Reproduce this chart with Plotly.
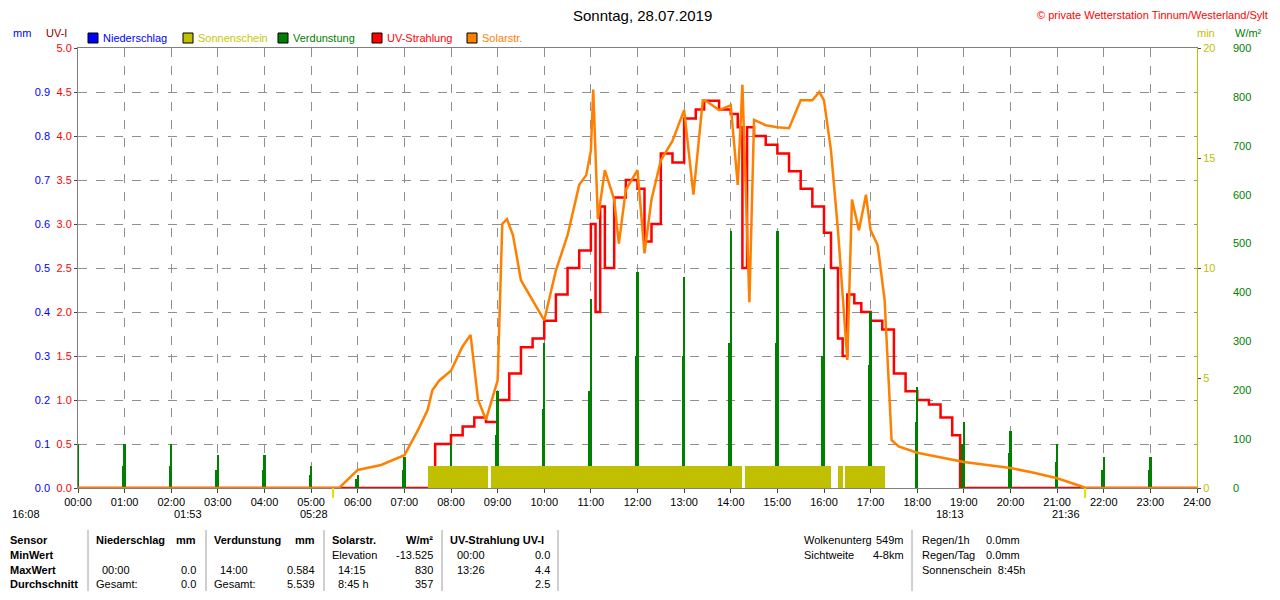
import plotly.graph_objects as go

# ---- data (hours of day) ----
solar_t = [0, 5.6, 6.0, 6.5, 7.0, 7.3, 7.5, 7.6, 7.75, 8.0, 8.25, 8.42, 8.58, 8.75, 9.0, 9.1, 9.2, 9.33, 9.5,
           9.75, 10.0, 10.25, 10.5, 10.75, 10.9, 11.0, 11.05, 11.15, 11.3, 11.5, 11.6, 11.75, 12.0, 12.15,
           12.3, 12.5, 12.75, 13.0, 13.2, 13.4, 13.5, 13.75, 14.0, 14.15, 14.25, 14.4, 14.5, 14.75, 15.0,
           15.25, 15.5, 15.75, 15.9, 16.0, 16.15, 16.3, 16.5, 16.6, 16.75, 16.9, 17.0, 17.15, 17.3, 17.45,
           17.6, 18.0, 18.5, 19.0, 19.5, 20.0, 20.5, 21.0, 21.5, 21.6, 24]
solar_v = [0, 0, 37, 47, 67, 120, 160, 200, 220, 240, 290, 313, 180, 140, 220, 540, 550, 517, 425,
           385, 343, 445, 517, 620, 640, 690, 815, 550, 650, 590, 500, 610, 650, 480, 590, 670, 710,
           773, 600, 793, 790, 773, 783, 620, 825, 380, 753, 742, 738, 736, 793, 793, 810, 793, 690,
           527, 262, 590, 527, 600, 527, 497, 385, 98, 85, 72, 63, 53, 47, 41, 31, 20, 4, 0, 0]

uv_t = [0, 7.65, 7.66, 8.0, 8.25, 8.5, 8.75, 9.0, 9.25, 9.5, 9.75, 10.0, 10.25, 10.5, 10.75, 11.0,
        11.1, 11.2, 11.3, 11.5, 11.75, 12.0, 12.15, 12.3, 12.5, 12.75, 13.0, 13.25, 13.43, 13.75, 14.0,
        14.15, 14.25, 14.35, 14.5, 14.75, 15.0, 15.25, 15.5, 15.75, 16.0, 16.15, 16.3, 16.4, 16.5, 16.65,
        16.8, 17.0, 17.25, 17.5, 17.75, 18.0, 18.25, 18.5, 18.75, 18.9, 18.92, 24]
uv_v = [0, 0, 0.5, 0.6, 0.7, 0.8, 0.75, 1.0, 1.3, 1.6, 1.7, 1.9, 2.2, 2.5, 2.7, 3.0,
        2.0, 3.2, 2.5, 3.3, 3.5, 3.4, 2.8, 3.0, 3.8, 3.7, 4.2, 4.3, 4.4, 4.3, 4.25,
        4.1, 2.5, 4.1, 4.0, 3.9, 3.8, 3.6, 3.4, 3.2, 2.9, 2.5, 1.7, 1.5, 2.2, 2.1,
        2.0, 1.9, 1.8, 1.3, 1.1, 1.0, 0.95, 0.8, 0.6, 0.6, 0, 0]

evap_t = [0, 0.97, 1, 1.97, 2, 2.97, 3, 3.97, 4, 4.97, 5, 5.97, 6, 6.97, 7, 7.97, 8,
          8.97, 9, 9.97, 10, 10.97, 11, 11.97, 12, 12.97, 13, 13.97, 14, 14.97, 15, 15.97, 16,
          16.97, 17, 17.97, 18, 18.97, 19, 19.97, 20, 20.97, 21, 21.97, 22, 22.97, 23]
evap_v = [0.1, 0.05, 0.1, 0.05, 0.1, 0.04, 0.075, 0.04, 0.075, 0.03, 0.05, 0.02, 0.03, 0.04, 0.07, 0.05, 0.1,
          0.12, 0.22, 0.18, 0.33, 0.22, 0.43, 0.3, 0.49, 0.3, 0.48, 0.33, 0.585, 0.33, 0.585, 0.3, 0.5,
          0.28, 0.4, 0.15, 0.23, 0.1, 0.15, 0.08, 0.13, 0.06, 0.1, 0.04, 0.07, 0.04, 0.07]

sun_start = [7.5, 8.85, 14.3, 16.3, 16.45]
sun_end = [8.8, 14.25, 16.15, 16.4, 17.3]
sun_min = [1.0, 1.0, 1.0, 1.0, 1.0]

hours = list(range(25))
hour_labels = ["%02d:00" % h for h in hours]
uv_ticks = [i * 0.5 for i in range(11)]
mm_ticks = [i * 0.1 for i in range(10)]

# page has an 8px body margin; W, H chosen so no scrollbars appear
W, H = 1264, 584
OFF = 8

fig = go.Figure()
fig.add_trace(go.Bar(x=[(a + b) / 2 for a, b in zip(sun_start, sun_end)], y=sun_min,
                     width=[b - a for a, b in zip(sun_start, sun_end)],
                     marker=dict(color="#c0c000", line_width=0), yaxis="y3"))
fig.add_trace(go.Bar(x=evap_t, y=evap_v, width=0.05,
                     marker=dict(color="#008000", line_width=0), yaxis="y2"))
fig.add_trace(go.Scatter(x=solar_t, y=solar_v, mode="lines", line=dict(color="#ff8000", width=2.5),
                         yaxis="y4"))
fig.add_trace(go.Scatter(x=uv_t, y=uv_v, mode="lines", line=dict(color="#ff0000", width=2.5, shape="hv"),
                         yaxis="y"))

grid = dict(showgrid=True, gridcolor="#909090", griddash="dash", gridwidth=1)
fig.update_layout(
    width=W, height=H, margin=dict(l=0, r=0, t=40, b=H - 480, autoexpand=False),
    paper_bgcolor="white", plot_bgcolor="white", bargap=0, barmode="overlay",
    font=dict(family="Liberation Sans", size=11, color="black"),
    showlegend=False,
    xaxis=dict(domain=[(78 - OFF) / W, (1197 - OFF) / W], range=[0, 24], tickvals=hours, ticktext=hour_labels,
               ticks="outside", ticklen=4, mirror=True, showline=True, linecolor="#808080",
               automargin=False, **grid),
    yaxis=dict(range=[0, 5], tickvals=uv_ticks, ticktext=["%.1f" % v for v in uv_ticks],
               tickfont=dict(color="#ff0000"), ticks="outside", ticklen=3, showline=True,
               linecolor="#808080", mirror=True, automargin=False, **grid),
    yaxis2=dict(range=[0, 1], overlaying="y", anchor="free", position=(50 - OFF) / W, side="left",
                tickvals=mm_ticks, ticktext=["%.1f" % v for v in mm_ticks],
                tickfont=dict(color="#0000ff"), showgrid=False, automargin=False),
    yaxis3=dict(range=[0, 20], overlaying="y", side="right", anchor="x", tickvals=[0, 5, 10, 15, 20],
                tickfont=dict(color="#c0c000"), ticks="outside", ticklen=3, showgrid=False,
                linecolor="#c0c000", showline=True, automargin=False),
    yaxis4=dict(range=[0, 900], overlaying="y", side="right", anchor="free", position=(1232 - OFF) / W,
                tickvals=list(range(0, 901, 100)), tickfont=dict(color="#008000"), showgrid=False,
                automargin=False),
)

ann = []
shapes = []


def px(xp, yp, s, color="black", align="left", bold=False, size=11):
    if bold:
        s = "<b>" + s + "</b>"
    ann.append(dict(x=(xp - OFF) / W, y=(488 - yp) / 440, xref="paper", yref="paper", text=s,
                    showarrow=False, xanchor=align, yanchor="middle", font=dict(color=color, size=size)))


def box(xp, yp, color):
    shapes.append(dict(type="rect", xref="paper", yref="paper",
                       x0=(xp - OFF) / W, x1=(xp + 10 - OFF) / W,
                       y0=(488 - yp + 5) / 440, y1=(488 - yp - 5) / 440,
                       fillcolor=color, line=dict(color="black", width=1)))


px(642, 16, "Sonntag, 28.07.2019", align="center", size=15)
px(1270, 15, "© private Wetterstation Tinnum/Westerland/Sylt", color="#ff0000", align="right", size=11)
px(22, 33, "mm", color="#0000ff", align="center")
px(56, 33, "UV-I", color="#8b0000", align="center")
px(1206, 33, "min", color="#c0c000", align="center")
px(1248, 33, "W/m²", color="#008000", align="center")

legend = [(88, "Niederschlag", "#0000ff", "#0000ff"),
          (183, "Sonnenschein", "#c0c000", "#c8c800"),
          (278, "Verdunstung", "#008000", "#008000"),
          (372, "UV-Strahlung", "#ff0000", "#ff0000"),
          (467, "Solarstr.", "#ff8000", "#ff8000")]
for xl, name, fill, tc in legend:
    box(xl, 38, fill)
    px(xl + 13, 38, name, color=tc)

px(10, 514, "16:08")
px(172, 514, "01:53")
px(298, 514, "05:28")
px(934, 514, "18:13")
px(1050, 514, "21:36")

rows = [540, 555, 570, 584]
px(8, rows[0], "Sensor", bold=True)
px(8, rows[1], "MinWert", bold=True)
px(8, rows[2], "MaxWert", bold=True)
px(8, rows[3], "Durchschnitt", bold=True)
px(94, rows[0], "Niederschlag", bold=True); px(198, rows[0], "mm", bold=True, align="right")
px(100, rows[2], "00:00"); px(198, rows[2], "0.0", align="right")
px(94, rows[3], "Gesamt:"); px(198, rows[3], "0.0", align="right")
px(212, rows[0], "Verdunstung", bold=True); px(317, rows[0], "mm", bold=True, align="right")
px(218, rows[2], "14:00"); px(317, rows[2], "0.584", align="right")
px(212, rows[3], "Gesamt:"); px(317, rows[3], "5.539", align="right")
px(330, rows[0], "Solarstr.", bold=True); px(435, rows[0], "W/m²", bold=True, align="right")
px(330, rows[1], "Elevation"); px(435, rows[1], "-13.525", align="right")
px(336, rows[2], "14:15"); px(435, rows[2], "830", align="right")
px(336, rows[3], "8:45 h"); px(435, rows[3], "357", align="right")
px(448, rows[0], "UV-Strahlung UV-I", bold=True)
px(455, rows[1], "00:00"); px(552, rows[1], "0.0", align="right")
px(455, rows[2], "13:26"); px(552, rows[2], "4.4", align="right")
px(552, rows[3], "2.5", align="right")
px(802, rows[0], "Wolkenunterg"); px(906, rows[0], "549m", align="right")
px(802, rows[1], "Sichtweite"); px(906, rows[1], "4-8km", align="right")
px(920, rows[0], "Regen/1h"); px(1022, rows[0], "0.0mm", align="right")
px(920, rows[1], "Regen/Tag"); px(1022, rows[1], "0.0mm", align="right")
px(920, rows[2], "Sonnenschein  8:45h")

for xs in [88, 206, 324, 442, 558, 912]:
    shapes.append(dict(type="line", xref="paper", yref="paper", x0=(xs - OFF) / W, x1=(xs - OFF) / W,
                       y0=(488 - 530) / 440, y1=(488 - 591) / 440, line=dict(color="#a0a0a0", width=1)))
for h in [5.47, 21.6]:
    shapes.append(dict(type="line", xref="x", yref="paper", x0=h, x1=h, y0=0, y1=-10 / 440,
                       line=dict(color="#e0e000", width=2)))
fig.update_layout(annotations=ann, shapes=shapes)

fig.write_html("out.html")
